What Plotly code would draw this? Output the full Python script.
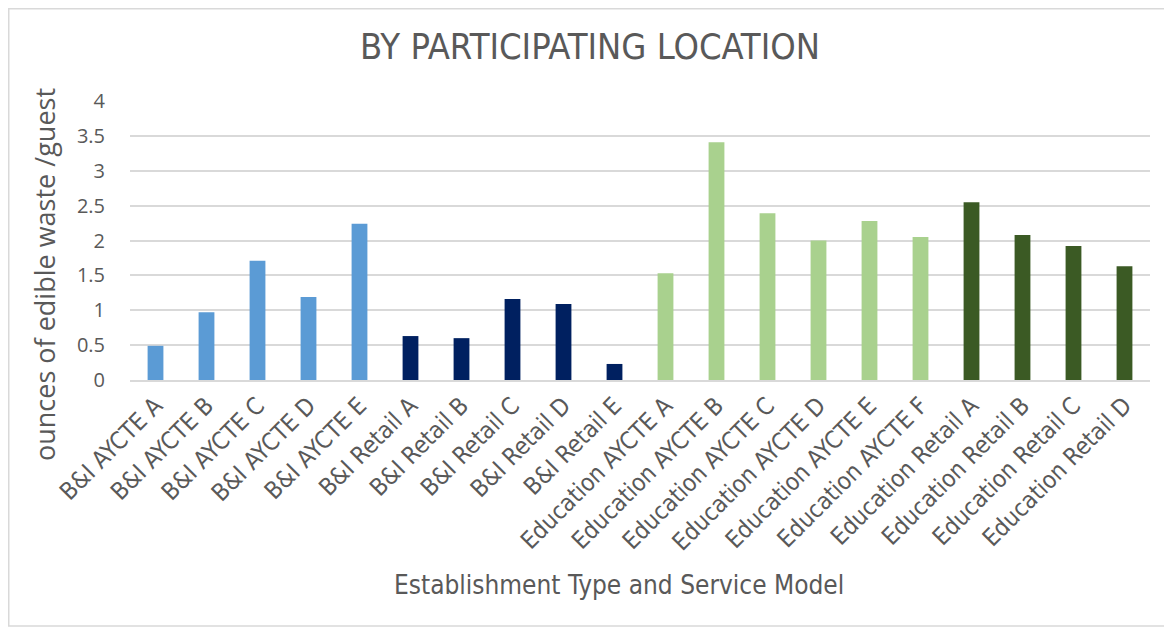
import plotly.graph_objects as go

# categories grouped by establishment type / service model
bi_aycte = ["B&I AYCTE A", "B&I AYCTE B", "B&I AYCTE C", "B&I AYCTE D", "B&I AYCTE E"]
bi_retail = ["B&I Retail A", "B&I Retail B", "B&I Retail C", "B&I Retail D", "B&I Retail E"]
edu_aycte = ["Education AYCTE A", "Education AYCTE B", "Education AYCTE C",
             "Education AYCTE D", "Education AYCTE E", "Education AYCTE F"]
edu_retail = ["Education Retail A", "Education Retail B", "Education Retail C", "Education Retail D"]

# ounces of edible waste per guest
bi_aycte_vals = [0.49, 0.97, 1.71, 1.19, 2.24]
bi_retail_vals = [0.63, 0.60, 1.16, 1.09, 0.23]
edu_aycte_vals = [1.53, 3.41, 2.39, 2.00, 2.28, 2.05]
edu_retail_vals = [2.55, 2.08, 1.92, 1.63]

GREY = "#595959"
COND = "DejaVu Sans Condensed"

groups = [
    (bi_aycte, bi_aycte_vals, "#5B9BD5"),
    (bi_retail, bi_retail_vals, "#002060"),
    (edu_aycte, edu_aycte_vals, "#A9D18E"),
    (edu_retail, edu_retail_vals, "#3B5A24"),
]
all_cats = bi_aycte + bi_retail + edu_aycte + edu_retail

fig = go.Figure()
for cats, vals, col in groups:
    fig.add_trace(go.Bar(x=cats, y=vals, marker=dict(color=col, line=dict(width=0)),
                         showlegend=False))

# page body adds an 8px offset, so figure coords = screen coords - 8
W, H = 1172, 628
L, T = 122, 93
pw, ph = 1020, 279
R, B = W - L - pw, H - T - ph

fig.update_layout(
    width=W, height=H,
    margin=dict(l=L, r=R, t=T, b=B),
    paper_bgcolor="white", plot_bgcolor="white",
    bargap=0.69,
    font=dict(family="Open Sans", color=GREY),
    title=dict(text="BY PARTICIPATING LOCATION", x=(590 - 8) / W, xanchor="center",
               y=1 - 38 / H, yanchor="middle",
               font=dict(family=COND, size=36, color=GREY)),
    xaxis=dict(categoryorder="array", categoryarray=all_cats, tickangle=-45,
               tickfont=dict(family=COND, size=24, color=GREY), showgrid=False,
               showline=True, linecolor="#D9D9D9", linewidth=2, ticks=""),
    yaxis=dict(range=[0, 4], dtick=0.5, tickfont=dict(size=20, color=GREY),
               gridcolor="#D9D9D9", gridwidth=2, zeroline=False,
               ticks="outside", ticklen=20, tickcolor="rgba(0,0,0,0)"),
    annotations=[
        dict(text="Establishment Type and Service Model", xref="paper", yref="paper",
             x=(619 - 8 - L) / pw, y=-(585 - 8 - (T + ph)) / ph, xanchor="center", yanchor="middle",
             showarrow=False, font=dict(family=COND, size=26, color=GREY)),
        dict(text="ounces of edible waste /guest", xref="paper", yref="paper", textangle=-90,
             x=(44 - 8 - L) / pw, y=1 - (275 - 8 - T) / ph, xanchor="center", yanchor="middle",
             showarrow=False, font=dict(family="Open Sans", size=27, color=GREY)),
    ],
    shapes=[dict(type="rect", xref="paper", yref="paper",
                 x0=(0.75 - L) / pw, x1=(1157 - L) / pw,
                 y0=1 + (T - 0.75) / ph, y1=-(618 - T - ph) / ph,
                 line=dict(color="#D9D9D9", width=1.5), fillcolor="rgba(0,0,0,0)")],
)

fig.write_html("out.html")
